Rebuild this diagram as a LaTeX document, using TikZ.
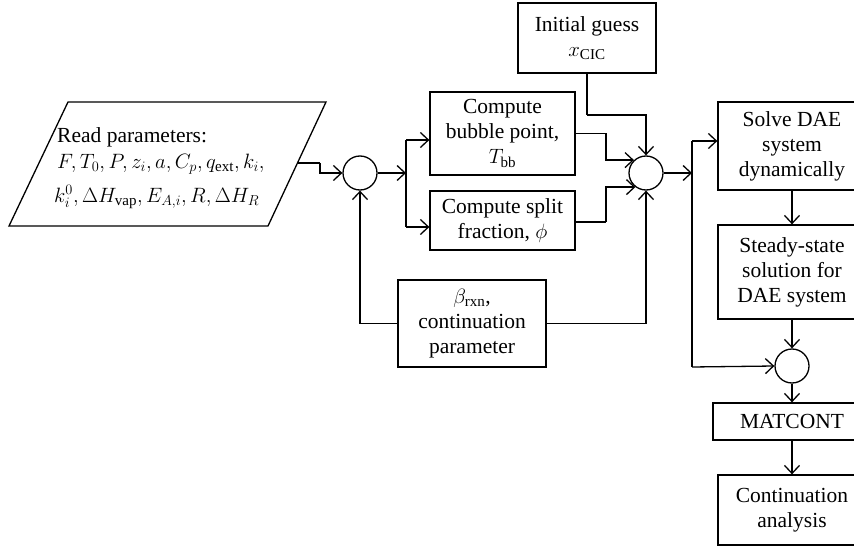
\documentclass[tikz,border=0pt]{standalone}
\usepackage{fontspec}
\setmainfont{Liberation Serif}
\usetikzlibrary{arrows.meta,calc}
\begin{document}
\begin{tikzpicture}[x=1pt,y=-1pt,
  every node/.style={font=\fontsize{21.5}{25}\selectfont},
  box/.style={draw,line width=1.3pt,align=center,inner sep=0pt},
  junc/.style={draw,line width=1.3pt,circle,minimum size=34pt,inner sep=0pt},
  conn/.style={line width=1.3pt,-{Straight Barb[length=8pt,width=15pt,line width=1.3pt]}},
  line/.style={line width=1.3pt}]
\useasboundingbox (0,0) rectangle (854,548);
% input parallelogram
\draw[line width=1.3pt] (9,226) -- (68,102) -- (326,102) -- (268,226) -- cycle;
\node[anchor=north west,align=left,inner sep=0pt] (read) at (57,127)
  {Read parameters:\\[1pt]
   $F, T_0, P, z_i, a, C_p, q_{\mathrm{ext}}, k_i,$\\[9pt]
   \hspace{-3pt}$k_i^0, \Delta H_{\mathrm{vap}}, E_{A,i}, R, \Delta H_R$};
\coordinate (readout) at (297,163);
% boxes
\node[box,minimum width=138pt,minimum height=70pt] (guess) at (587,38) {Initial guess\\$x_{\mathrm{CIC}}$};
\node[box,minimum width=145pt,minimum height=83pt] (bubble) at (502.5,133.5) {Compute\\bubble point,\\$T_{\mathrm{bb}}$};
\node[box,minimum width=145pt,minimum height=59pt] (split) at (502.5,220.5) {Compute split\\fraction, $\phi$};
\node[box,minimum width=148pt,minimum height=87pt] (beta) at (472,323.5) {$\beta_{\mathrm{rxn}}$,\\continuation\\parameter};
\node[box,minimum width=148pt,minimum height=88pt] (dae) at (792,146) {Solve DAE\\system\\dynamically};
\node[box,minimum width=148pt,minimum height=94pt] (steady) at (792,272) {Steady-state\\solution for\\DAE system};
\node[box,minimum width=158pt,minimum height=37pt] (matcont) at (792,421.5) {MATCONT};
\node[box,minimum width=148pt,minimum height=70pt] (cont) at (792,510) {Continuation\\analysis};
% junctions
\node[junc] (c1) at (360,173) {};
\node[junc] (c2) at (646,173) {};
\node[junc] (c3) at (792,366) {};
% bend coordinates
\coordinate (b1) at (320,163);
\coordinate (j1) at (406,173);
\coordinate (j1top) at (406,140);
\coordinate (j1bot) at (406,227);
\coordinate (j2) at (692,173);
\coordinate (j2top) at (692,141);
\coordinate (j2bot) at (692,367);
\coordinate (g1) at (587,115);
\coordinate (bb1) at (606,133.5);
\coordinate (sp1) at (606,222);
% connectors
\draw[line] (readout) -- (b1);
\draw[conn] (b1) |- (c1.west);
\draw[conn] (beta.west) -| (c1.south);
\draw[conn] (c1.east) -- (j1);
\draw[line] (j1top) -- (j1bot);
\draw[conn] (j1top) -- (j1top -| bubble.west);
\draw[conn] (j1bot) -- (j1bot -| split.west);
\draw[line] (guess.south) -- (g1);
\draw[conn] (g1) -| (c2.north);
\draw[line] (bubble.east) -- (bb1);
\draw[conn] (bb1) |- (c2.133);
\draw[line] (sp1 -| split.east) -- (sp1);
\draw[conn] (sp1) |- (c2.233);
\draw[conn] (beta.east) -| (c2.south);
\draw[conn] (c2.east) -- (j2);
\draw[line] (j2top) -- (j2bot);
\draw[conn] (j2top) -- (j2top -| dae.west);
\draw[conn] (j2bot) -- (c3.west);
\draw[conn] (dae.south) -- (steady.north);
\draw[conn] (steady.south) -- (c3.north);
\draw[conn] (c3.south) -- (matcont.north);
\draw[conn] (matcont.south) -- (cont.north);
\end{tikzpicture}
\end{document}
